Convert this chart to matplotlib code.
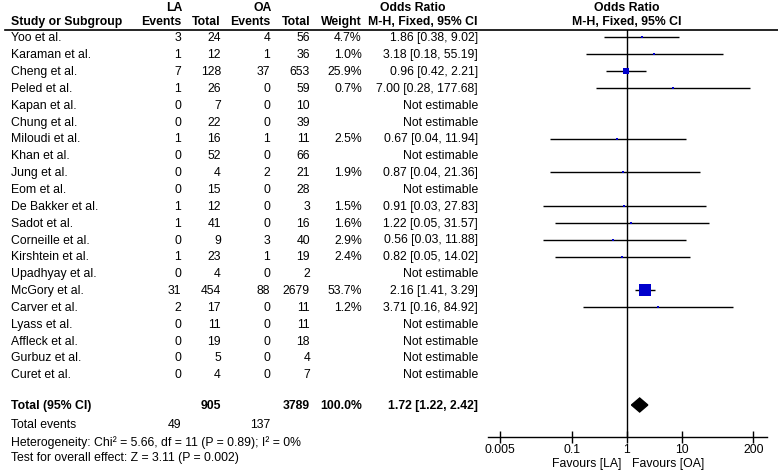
import matplotlib
matplotlib.use("Agg")
import matplotlib.pyplot as plt
from matplotlib.lines import Line2D
import matplotlib.transforms as mtrans

plt.rcParams['font.family'] = ['Liberation Sans', 'DejaVu Sans']

studies = ["Yoo et al.", "Karaman et al.", "Cheng et al.", "Peled et al.", "Kapan et al.",
           "Chung et al.", "Miloudi et al.", "Khan et al.", "Jung et al.", "Eom et al.",
           "De Bakker et al.", "Sadot et al.", "Corneille et al.", "Kirshtein et al.",
           "Upadhyay et al.", "McGory et al.", "Carver et al.", "Lyass et al.",
           "Affleck et al.", "Gurbuz et al.", "Curet et al."]
la_events = [3, 1, 7, 1, 0, 0, 1, 0, 0, 0, 1, 1, 0, 1, 0, 31, 2, 0, 0, 0, 0]
la_total = [24, 12, 128, 26, 7, 22, 16, 52, 4, 15, 12, 41, 9, 23, 4, 454, 17, 11, 19, 5, 4]
oa_events = [4, 1, 37, 0, 0, 0, 1, 0, 2, 0, 0, 0, 3, 1, 0, 88, 0, 0, 0, 0, 0]
oa_total = [56, 36, 653, 59, 10, 39, 11, 66, 21, 28, 3, 16, 40, 19, 2, 2679, 11, 11, 18, 4, 7]
weights = [4.7, 1.0, 25.9, 0.7, None, None, 2.5, None, 1.9, None, 1.5, 1.6, 2.9, 2.4,
           None, 53.7, 1.2, None, None, None, None]
or_est = [1.86, 3.18, 0.96, 7.00, None, None, 0.67, None, 0.87, None, 0.91, 1.22, 0.56,
          0.82, None, 2.16, 3.71, None, None, None, None]
or_lo = [0.38, 0.18, 0.42, 0.28, None, None, 0.04, None, 0.04, None, 0.03, 0.05, 0.03,
         0.05, None, 1.41, 0.16, None, None, None, None]
or_hi = [9.02, 55.19, 2.21, 177.68, None, None, 11.94, None, 21.36, None, 27.83, 31.57,
         11.88, 14.02, None, 3.29, 84.92, None, None, None, None]

total_la = 905
total_oa = 3789
total_events_la = 49
total_events_oa = 137
total_or = 1.72
total_lo = 1.22
total_hi = 2.42
heterogeneity = "Heterogeneity: Chi\u00b2 = 5.66, df = 11 (P = 0.89); I\u00b2 = 0%"
overall = "Test for overall effect: Z = 3.11 (P = 0.002)"
xticks = [0.005, 0.1, 1, 10, 200]
xtick_labels = ["0.005", "0.1", "1", "10", "200"]

W, H = 778, 473
fig = plt.figure(figsize=(W / 100, H / 100), dpi=100)
fig.patch.set_facecolor('white')

fs = 8.8

# plot axes in pixel geometry
ax_l, ax_r, ax_t, ax_b = 488, 766.7, 30, 437
ax = fig.add_axes([ax_l / W, 1 - ax_b / H, (ax_r - ax_l) / W, (ax_b - ax_t) / H])
ax.set_xscale('log')
x0 = 10 ** ((ax_l - 626.7) / 55.0)
x1 = 10 ** ((ax_r - 626.7) / 55.0)
ax.set_xlim(x0, x1)

row_h = 16.85
def row_of(px):
    return (px - 37.5) / row_h
ax.set_ylim(row_of(ax_b), row_of(ax_t))

for s in ['top', 'left', 'right']:
    ax.spines[s].set_visible(False)
ax.spines['bottom'].set_linewidth(1.0)
ax.set_yticks([])
ax.set_xticks(xticks)
ax.set_xticklabels(xtick_labels)
ax.minorticks_off()
ax.tick_params(axis='x', direction='inout', length=8, width=1, labelsize=fs, pad=1)
ax.axvline(1, color='black', lw=1)

blue = '#0000CC'
rows = list(range(len(studies)))
for r, e, lo, hi, w in zip(rows, or_est, or_lo, or_hi, weights):
    if e is None:
        continue
    ax.hlines(r, lo, hi, color='black', lw=1, zorder=2, clip_on=False)
    side = max(2.6, 1 + 0.19 * w)
    ax.plot([e], [r], marker='s', ms=side * 0.72, color=blue, mec=blue, mew=0, zorder=3)

r_total = row_of(405)
dh = 7 / row_h
ax.fill([total_lo, total_or, total_hi, total_or],
        [r_total, r_total - dh, r_total, r_total + dh], color='black', zorder=3)

# text table
tr = mtrans.blended_transform_factory(fig.transFigure, ax.transData)
nudge = 0.8 / row_h
def T(xpx, r, s, ha='left', bold=False):
    fig.text(xpx / W, r + nudge, s, transform=tr, ha=ha, va='center', fontsize=fs,
             fontweight='bold' if bold else 'normal')

for r, name, le, lt, oe, ot, w, e, lo, hi in zip(rows, studies, la_events, la_total,
                                                  oa_events, oa_total, weights,
                                                  or_est, or_lo, or_hi):
    T(11, r, name)
    T(181, r, str(le), 'right')
    T(221, r, str(lt), 'right')
    T(270, r, str(oe), 'right')
    T(310, r, str(ot), 'right')
    if w is not None:
        T(362, r, f"{w:.1f}%", 'right')
        T(478, r, f"{e:.2f} [{lo:.2f}, {hi:.2f}]", 'right')
    else:
        T(478, r, "Not estimable", 'right')

T(11, r_total, "Total (95% CI)", bold=True)
T(221, r_total, str(total_la), 'right', bold=True)
T(310, r_total, str(total_oa), 'right', bold=True)
T(362, r_total, "100.0%", 'right', bold=True)
T(478, r_total, f"{total_or:.2f} [{total_lo:.2f}, {total_hi:.2f}]", 'right', bold=True)
T(11, row_of(424), "Total events")
T(181, row_of(424), str(total_events_la), 'right')
T(270, row_of(424), str(total_events_oa), 'right')
T(11, row_of(441.5), heterogeneity)
T(11, row_of(457.5), overall)

# headers
def HT(xpx, ypx, s, ha='center', bold=True):
    fig.text(xpx / W, 1 - ypx / H, s, ha=ha, va='center', fontsize=fs,
             fontweight='bold' if bold else 'normal')

HT(174, 8, "LA")
HT(263, 8, "OA")
HT(413, 8, "Odds Ratio")
HT(626.7, 8, "Odds Ratio")
HT(11, 22, "Study or Subgroup", 'left')
HT(181, 22, "Events", 'right')
HT(221, 22, "Total", 'right')
HT(270, 22, "Events", 'right')
HT(310, 22, "Total", 'right')
HT(362, 22, "Weight", 'right')
HT(478, 22, "M-H, Fixed, 95% CI", 'right')
HT(626.7, 22, "M-H, Fixed, 95% CI")

fig.add_artist(Line2D([5 / W, 1], [1 - 30 / H, 1 - 30 / H], color='black', lw=1.2,
                      transform=fig.transFigure))

HT(621, 464, "Favours [LA]", 'right', bold=False)
HT(632, 464, "Favours [OA]", 'left', bold=False)

fig.savefig("out.png", dpi=100, facecolor='white')
